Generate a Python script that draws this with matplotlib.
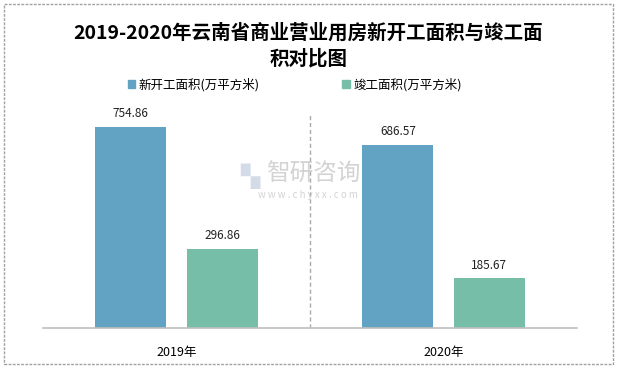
import matplotlib.pyplot as plt
from matplotlib.patches import Rectangle, Patch

plt.rcParams['font.family'] = ['Noto Sans CJK SC', 'DejaVu Sans']

years = ["2019年", "2020年"]
new_area = [754.86, 686.57]
done_area = [296.86, 185.67]
series_names = ["新开工面积(万平方米)", "竣工面积(万平方米)"]
colors = ["#62A3C4", "#76BEA8"]

fig = plt.figure(figsize=(6.17, 3.67), dpi=100)
ax = fig.add_axes([43 / 617, 1 - 328 / 367, 534 / 617, 240 / 367])

x = range(len(years))
width = 0.266
off = 0.171
b1 = ax.bar([i - off for i in x], new_area, width, color=colors[0])
b2 = ax.bar([i + off for i in x], done_area, width, color=colors[1])
for bars, vals in ((b1, new_area), (b2, done_area)):
    for rect, v in zip(bars, vals):
        ax.text(rect.get_x() + rect.get_width() / 2, v + 25, f"{v:.2f}",
                ha="center", va="bottom", fontsize=8.5, color="#222222")

ax.set_xlim(-0.5, len(years) - 0.5)
ax.set_ylim(0, 900)
ax.set_yticks([])
ax.set_xticks(list(x))
ax.set_xticklabels(years, fontsize=9)
ax.tick_params(axis="x", length=0, pad=13)
for s in ("top", "right", "left"):
    ax.spines[s].set_visible(False)
ax.spines["bottom"].set_color("#BFBFBF")
ax.spines["bottom"].set_linewidth(1.2)
ax.plot([0.5, 0.5], [0, 800], ls="--", color="#AAAAAA", lw=1, dashes=(3, 2))

# watermark
fig.text(313 / 617, 1 - 174 / 367, "智研咨询", fontsize=17, color="#C8C8C8",
         ha="center", va="center", alpha=0.8)
fig.text(250 / 617, 1 - 176 / 367, "▚", fontsize=18, color="#C9D3E3",
         ha="center", va="center", alpha=0.8, family=["DejaVu Sans"])
fig.text(308 / 617, 1 - 195 / 367, "w w w . c h y x x . c o m", fontsize=7, color="#C8C8C8",
         ha="center", va="center", alpha=0.8)

fig.text(0.5, 1 - 46 / 367, "2019-2020年云南省商业营业用房新开工面积与竣工面\n积对比图",
         ha="center", va="center", fontsize=14, fontweight="bold", linespacing=1.35)

handles = [Patch(color=c) for c in colors]
fig.legend(handles, series_names, loc="center", bbox_to_anchor=(0.478, 1 - 85 / 367),
           ncol=2, frameon=False, fontsize=9, handlelength=0.6, handleheight=0.6,
           columnspacing=6.6, handletextpad=0.3)

fig.patches.append(Rectangle((4 / 617, 3 / 367), 609 / 617, 360 / 367, transform=fig.transFigure,
                             fill=False, edgecolor="#A0A0A0", lw=1, ls=(0, (2, 1))))

fig.savefig("out.png", dpi=100)
